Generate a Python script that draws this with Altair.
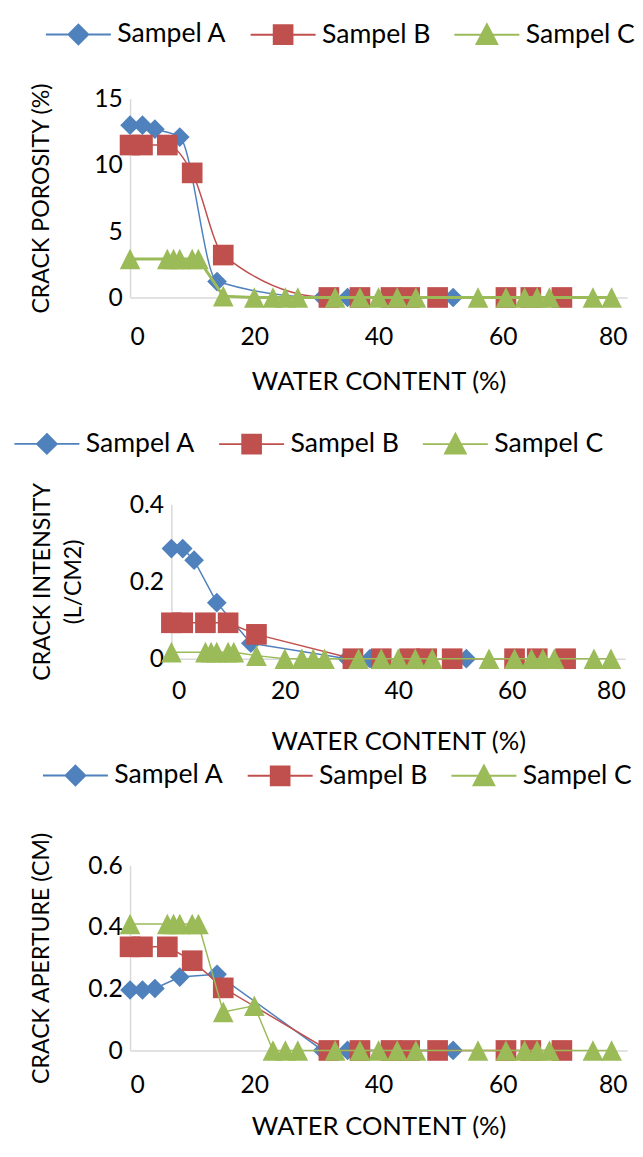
import altair as alt
import pandas as pd

FONT = "Lato"

names = ["Sampel A", "Sampel B", "Sampel C"]
colors = ["#4F81BD", "#C0504D", "#9BBB59"]

# water content (%) of each sample's points
water_a = [0, 2, 4, 8, 14, 31, 35, 52]
water_b = [0, 2, 6, 10, 15, 32, 37, 42, 45, 49.5, 60.5, 64.5, 69.5]
water_c = [0, 6, 7, 8, 10, 11, 15, 20, 23, 25, 27, 33, 37, 40, 43, 46,
           56, 60.5, 63.5, 65.5, 67.5, 74.5, 77.5]

# crack porosity (%)
porosity_a = [13.0, 13.0, 12.7, 12.1, 1.2, 0, 0, 0]
porosity_b = [11.5, 11.5, 11.5, 9.4, 3.2, 0, 0, 0, 0, 0, 0, 0, 0]
porosity_c = [2.9, 2.9, 2.9, 2.9, 2.9, 2.9, 0.1, 0, 0, 0, 0, 0, 0, 0, 0, 0,
              0, 0, 0, 0, 0, 0, 0]

# crack intensity (L/CM2)
intensity_a = [0.285, 0.285, 0.255, 0.145, 0.04, 0, 0, 0]
intensity_b = [0.093, 0.093, 0.093, 0.093, 0.063, 0, 0, 0, 0, 0, 0, 0, 0]
intensity_c = [0.017, 0.017, 0.017, 0.017, 0.017, 0.017, 0.008, 0, 0, 0, 0, 0,
               0, 0, 0, 0, 0, 0, 0, 0, 0, 0, 0]

# crack aperture (CM)
aperture_a = [0.196, 0.196, 0.201, 0.238, 0.247, 0, 0, 0]
aperture_b = [0.336, 0.336, 0.336, 0.291, 0.203, 0, 0, 0, 0, 0, 0, 0, 0]
aperture_c = [0.41, 0.41, 0.41, 0.41, 0.41, 0.41, 0.125, 0.145, 0, 0, 0, 0,
              0, 0, 0, 0, 0, 0, 0, 0, 0, 0, 0]

x_ticks = [0, 20, 40, 60, 80]

point_shapes = ["diamond", "square", "M0,-1L1,1L-1,1Z"]
point_sizes = [400, 441, 441]
legend_paths = [
    "M-3.3,0L3.3,0M0,-1L1,0L0,1L-1,0Z",
    "M-3.3,0L3.3,0M-0.95,-0.95L0.95,-0.95L0.95,0.95L-0.95,0.95Z",
    "M-3.3,0L3.3,0M0,-1.05L1.05,0.95L-1.05,0.95Z",
]

W = 505


def panel_df(a, b, c):
    rows = []
    for s, xs, ys in [(names[0], water_a, a), (names[1], water_b, b), (names[2], water_c, c)]:
        for x, y in zip(xs, ys):
            rows.append({"water": x, "value": y, "series": s})
    return pd.DataFrame(rows)


def make_panel(df, ydom, yvals, yfmt, height, ytitle, title_x, lx, ly,
               x_range, y_offset, smooth, c_width, lab_pad, xt_y):
    base = alt.Chart(df)
    xenc = alt.X(
        "water:Q",
        scale=alt.Scale(domain=[0, 80], range=x_range, nice=False, zero=False),
        axis=alt.Axis(values=x_ticks, title="WATER CONTENT (%)", grid=False,
                      ticks=False, tickSize=0, domainColor="#D9D9D9", domainWidth=1.5,
                      labelFont=FONT, labelFontSize=25, labelColor="black",
                      labelPadding=lab_pad, labelBaseline="middle",
                      titleFont=FONT, titleFontSize=26, titleFontWeight="normal",
                      titleColor="black", titleY=xt_y, titleBaseline="middle"),
    )
    yenc = alt.Y(
        "value:Q",
        scale=alt.Scale(domain=ydom, nice=False),
        axis=alt.Axis(values=yvals, format=yfmt, title=ytitle, grid=False,
                      ticks=False, tickSize=0, offset=y_offset,
                      domainColor="#D9D9D9", domainWidth=1.5,
                      labelFont=FONT, labelFontSize=25, labelColor="black",
                      labelPadding=8, labelBaseline="middle",
                      titleFont=FONT, titleFontSize=23.5, titleFontWeight="normal",
                      titleColor="black", titleAngle=270, titleX=title_x,
                      titleY=height / 2, titleBaseline="middle", titleAlign="center",
                      titleLineHeight=32),
    )
    layers = []
    for i, s in enumerate(names):
        sub = base.transform_filter(alt.datum.series == s)
        interp = "monotone" if (smooth and i < 2) else "linear"
        sw = c_width if i == 2 else 1.5
        layers.append(sub.mark_line(color=colors[i], strokeWidth=sw,
                                    interpolate=interp).encode(x=xenc, y=yenc))
        layers.append(sub.mark_point(shape=point_shapes[i], size=point_sizes[i],
                                     filled=True, opacity=1, color=colors[i],
                                     strokeWidth=0).encode(x=xenc, y=yenc))
    leg = alt.Legend(orient="none", legendX=lx, legendY=ly, direction="horizontal",
                     title=None, labelFont=FONT, labelFontSize=27, labelColor="black",
                     labelOffset=26, columnPadding=19, symbolSize=400,
                     symbolStrokeWidth=2, symbolOpacity=1, padding=0)
    legend_layer = base.transform_filter("false").mark_point(
        filled=True, opacity=1, size=400, strokeWidth=2).encode(
        x=xenc, y=yenc,
        fill=alt.Fill("series:N", scale=alt.Scale(domain=names, range=colors), legend=leg),
        stroke=alt.Stroke("series:N", scale=alt.Scale(domain=names, range=colors), legend=leg),
        shape=alt.Shape("series:N", scale=alt.Scale(domain=names, range=legend_paths), legend=leg),
    )
    layers.append(legend_layer)
    return alt.layer(*layers).properties(width=W, height=height)


p1 = make_panel(panel_df(porosity_a, porosity_b, porosity_c), [0, 15], [0, 5, 10, 15], "d",
                202, "CRACK POROSITY (%)", -90, -66, -79, [0, W], 0, True, 3, 40, 86)
p2 = make_panel(panel_df(intensity_a, intensity_b, intensity_c), [0, 0.4], [0, 0.2, 0.4], "~g",
                157, ["CRACK INTENSITY", "(L/CM2)"], -131, -98, -75, [42, 503], -42, False, 1.5, 32, 84)
p3 = make_panel(panel_df(aperture_a, aperture_b, aperture_c), [0, 0.6], [0, 0.2, 0.4, 0.6], "~g",
                188, "CRACK APERTURE (CM)", -90, -69, -105, [0, W], 0, False, 1.5, 35, 77)

chart = alt.vconcat(p1, p2, p3, spacing=210, bounds="flush").resolve_scale(
    fill="independent", stroke="independent", shape="independent"
).resolve_legend(
    fill="independent", stroke="independent", shape="independent"
).properties(
    padding={"left": 22, "top": 4, "right": 0, "bottom": 0},
).configure_view(stroke=None)

chart.save("out.html", embed_options={"renderer": "svg", "actions": False})
